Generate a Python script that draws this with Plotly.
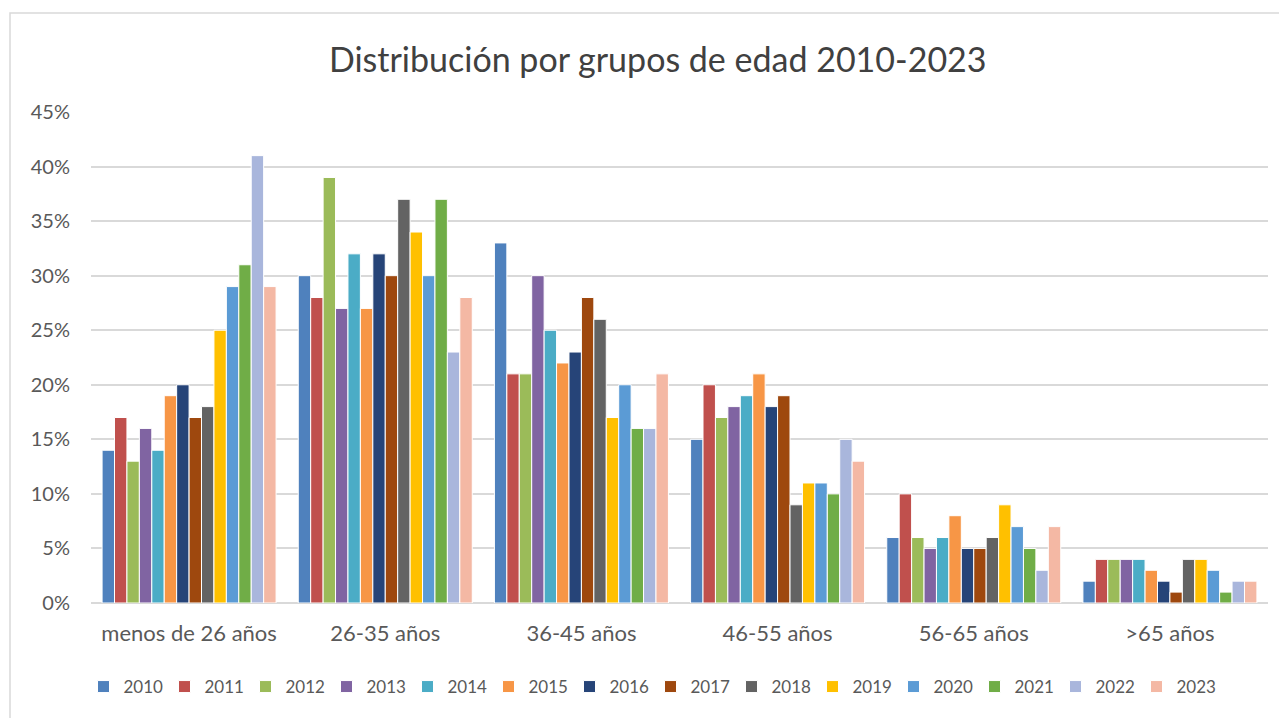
import plotly.graph_objects as go

categories = ["menos de 26 años", "26-35 años", "36-45 años", "46-55 años", "56-65 años", ">65 años"]
years = ["2010", "2011", "2012", "2013", "2014", "2015", "2016", "2017", "2018", "2019", "2020", "2021", "2022", "2023"]

v2010 = [14, 30, 33, 15, 6, 2]
v2011 = [17, 28, 21, 20, 10, 4]
v2012 = [13, 39, 21, 17, 6, 4]
v2013 = [16, 27, 30, 18, 5, 4]
v2014 = [14, 32, 25, 19, 6, 4]
v2015 = [19, 27, 22, 21, 8, 3]
v2016 = [20, 32, 23, 18, 5, 2]
v2017 = [17, 30, 28, 19, 5, 1]
v2018 = [18, 37, 26, 9, 6, 4]
v2019 = [25, 34, 17, 11, 9, 4]
v2020 = [29, 30, 20, 11, 7, 3]
v2021 = [31, 37, 16, 10, 5, 1]
v2022 = [41, 23, 16, 15, 3, 2]
v2023 = [29, 28, 21, 13, 7, 2]

series = [v2010, v2011, v2012, v2013, v2014, v2015, v2016, v2017, v2018, v2019, v2020, v2021, v2022, v2023]

y_ticks = [0, 5, 10, 15, 20, 25, 30, 35, 40, 45]
y_tick_labels = ["0%", "5%", "10%", "15%", "20%", "25%", "30%", "35%", "40%", "45%"]

colors = ["#4F81BD", "#C0504D", "#9BBB59", "#8064A2", "#4BACC6", "#F79646", "#264478",
          "#9E480E", "#636363", "#FFC000", "#5B9BD5", "#70AD47", "#A9B6DC", "#F4B8A4"]

FONT = "Lato"
TXT = "#595959"

# page has an 8px body margin; figure is laid out relative to that offset
W, H = 1279, 710
L, R, T, B = 83, 19, 104, 115
PH = H - T - B
PW = W - L - R

fig = go.Figure()
for y, vals, c in zip(years, series, colors):
    fig.add_trace(go.Bar(
        name=y, x=categories, y=vals,
        marker=dict(color=c, line=dict(color="white", width=1)),
    ))

fig.update_layout(
    width=W, height=H,
    paper_bgcolor="white", plot_bgcolor="white",
    barmode="group", bargap=0.113, bargroupgap=0,
    margin=dict(l=L, r=R, t=T, b=B, autoexpand=False),
    title=dict(text="Distribución por grupos de edad 2010-2023", x=0.508, xanchor="center",
               y=1 - 52 / H, yanchor="middle",
               font=dict(family=FONT, size=34, color="#404040")),
    font=dict(family=FONT, color=TXT),
    xaxis=dict(showgrid=False, showline=False, zeroline=False,
               tickfont=dict(size=22, color=TXT), ticks="", ticklabelstandoff=15),
    yaxis=dict(range=[0, 45], tickvals=y_ticks, ticktext=y_tick_labels,
               showgrid=True, gridcolor="#D9D9D9", gridwidth=1.5,
               zeroline=True, zerolinecolor="#D9D9D9", zerolinewidth=1.5,
               tickfont=dict(size=20, color=TXT), ticklabelstandoff=20),
    legend=dict(orientation="h", x=0.5 - 29 / PW, xanchor="center", y=-84 / PH, yanchor="middle",
                font=dict(size=17, color=TXT), traceorder="normal", itemwidth=30,
                entrywidth=36, entrywidthmode="pixels"),
    showlegend=True,
    shapes=[dict(type="rect", xref="paper", yref="paper", x0=-(L - 2) / PW, x1=1.2,
                 y0=-0.5, y1=1 + (T - 5) / PH, line=dict(color="#D9D9D9", width=1.5), layer="below")],
)

fig.write_html("out.html")
